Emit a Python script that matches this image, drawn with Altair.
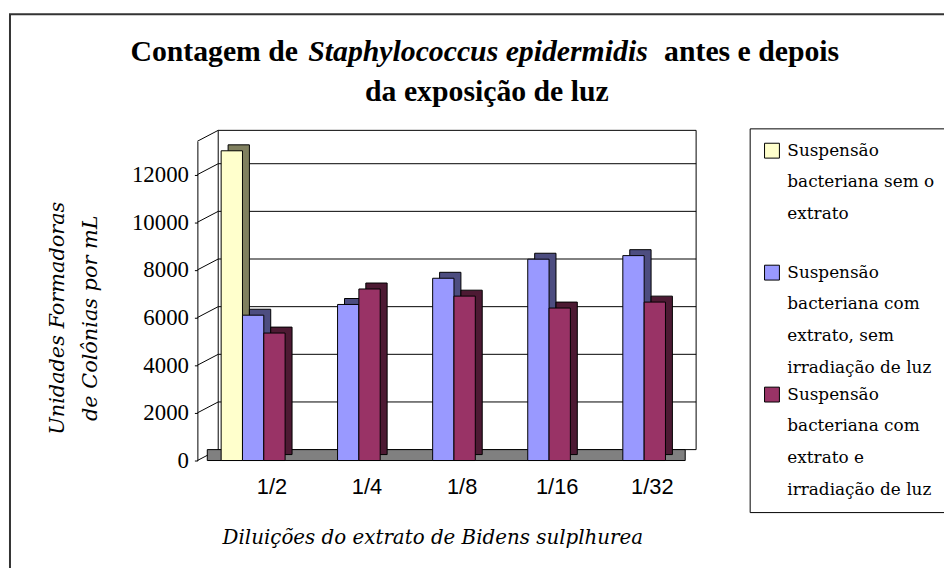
import json
import altair as alt
import pandas as pd

# ---------------- data ----------------
dilutions = ["1/2", "1/4", "1/8", "1/16", "1/32"]
series = ["sem_extrato", "com_extrato_sem_luz", "com_extrato_com_luz"]
sem_extrato = [13000, None, None, None, None]
com_extrato_sem_luz = [6100, 6550, 7650, 8450, 8600]
com_extrato_com_luz = [5350, 7200, 6900, 6400, 6650]
legend_lines = [
    ["Suspensão", "bacteriana sem o", "extrato", ""],
    ["Suspensão", "bacteriana com", "extrato, sem", "irradiação de luz"],
    ["Suspensão", "bacteriana com", "extrato e", "irradiação de luz"],
]
front_colors = ["#FFFFCC", "#9999FF", "#993366"]
side_colors = ["#80805F", "#4D4D80", "#4D1A33"]
y_ticks = [0, 2000, 4000, 6000, 8000, 10000, 12000]
y_max = 13400
title_line1 = ["Contagem de", "Staphylococcus epidermidis", "antes e depois"]
title_line2 = "da exposição de luz"
y_title = ["Unidades Formadoras", "de Colônias por mL"]
x_title = "Diluições do extrato de Bidens sulplhurea"

rows = []
for s, vals in zip(series, [sem_extrato, com_extrato_sem_luz, com_extrato_com_luz]):
    for d, v in zip(dilutions, vals):
        if v is not None:
            rows.append({"dil": d, "serie": s, "valor": v})
df = pd.DataFrame(rows)

label_expr = " : ".join(
    f"datum.label == '{s}' ? {json.dumps(l, ensure_ascii=False)}" for s, l in zip(series, legend_lines)
) + " : datum.label"

W, H = 496, 322
DX, DY = 21, -11

one = pd.DataFrame({"a": [0]})

border = alt.Chart(one).mark_rect(fillOpacity=0, stroke="#333333", strokeWidth=2).encode(
    x=alt.value(-189), x2=alt.value(900), y=alt.value(-128), y2=alt.value(600)
)
wall = alt.Chart(one).mark_rect(fill="white", stroke="black", strokeWidth=1).encode(
    x=alt.value(DX), x2=alt.value(503), y=alt.value(DY), y2=alt.value(H + DY)
)
grid = alt.Chart(pd.DataFrame({"v": y_ticks[1:]})).mark_rule(color="black", yOffset=DY).encode(
    y=alt.Y("v:Q"), x=alt.value(DX), x2=alt.value(503)
)
diag = alt.Chart(pd.DataFrame({"v": y_ticks + [y_max]})).mark_rule(color="black", y2Offset=DY).encode(
    y=alt.Y("v:Q"), y2="v:Q", x=alt.value(0), x2=alt.value(DX)
)
floor = alt.Chart(one).mark_rect(fill="#808080", stroke="black", strokeWidth=1).encode(
    x=alt.value(10), x2=alt.value(492), y=alt.value(H + DY), y2=alt.value(H)
)

x_scale = alt.Scale(paddingInner=0.328, paddingOuter=0.25)
y_scale = alt.Scale(domain=[0, y_max], nice=False)

x_axis = alt.Axis(
    title=x_title, titleFont="DejaVu Serif", titleFontStyle="italic", titleFontWeight="normal",
    titleFontSize=20, titleColor="black", titleX=237, titleY=78, titleBaseline="middle",
    titleAlign="center", labelAngle=0, labelFont="Liberation Sans", labelFontSize=22,
    labelColor="black", labelOffset=19, labelPadding=16, ticks=False, domain=False, zindex=2,
)
y_axis = alt.Axis(
    values=y_ticks, format="d", grid=False, domainColor="black", tickColor="black", tickSize=3,
    labelFont="Liberation Serif", labelFontSize=23, labelColor="black", labelPadding=6,
    title=y_title, titleFont="DejaVu Serif", titleFontStyle="italic", titleFontWeight="normal",
    titleFontSize=21, titleColor="black", titleLineHeight=33, titleX=-141, titleY=178,
    titleBaseline="middle", titleAlign="center", titleAngle=270, zindex=2,
)

shade_domain = [s + "_lado" for s in series]

shadow = alt.Chart(df).transform_calculate(
    lado="datum.serie + '_lado'"
).mark_bar(stroke="black", strokeWidth=1, yOffset=-6, y2Offset=-6).encode(
    x=alt.X("dil:N", sort=dilutions, scale=x_scale, axis=x_axis),
    xOffset=alt.XOffset("serie:N", sort=series, scale=alt.Scale(domain=series, range=[7, 71.5])),
    y=alt.Y("valor:Q", scale=y_scale, axis=y_axis),
    fill=alt.Fill("lado:N", scale=alt.Scale(domain=shade_domain, range=side_colors), legend=None),
)

front = alt.Chart(df).mark_bar(stroke="black", strokeWidth=1).encode(
    x=alt.X("dil:N", sort=dilutions, scale=x_scale, axis=x_axis),
    xOffset=alt.XOffset("serie:N", sort=series, scale=alt.Scale(domain=series, range=[0, 64.5])),
    y=alt.Y("valor:Q", scale=y_scale, axis=y_axis),
    color=alt.Color(
        "serie:N", scale=alt.Scale(domain=series, range=front_colors),
        legend=alt.Legend(
            title=None, orient="none", legendX=557, legendY=-13, labelExpr=label_expr,
            symbolType="square", symbolSize=225, symbolStrokeColor="black", symbolStrokeWidth=1,
            labelFont="DejaVu Serif", labelFontSize=17, labelColor="black", labelLimit=400,
            labelOffset=7, padding=14, strokeColor="black", fillColor="white", rowPadding=9,
            zindex=2,
        ),
    ),
)

def tpiece(text, x, y, italic=False):
    return alt.Chart(pd.DataFrame({"t": [text]})).mark_text(
        align="center", baseline="alphabetic", font="Liberation Serif", fontSize=30,
        fontWeight="bold", fontStyle="italic" if italic else "normal", color="black",
    ).encode(text="t:N", x=alt.value(x), y=alt.value(y))

t1 = tpiece(title_line1[0], 216 - 199, 59 - 140)
t2 = tpiece(title_line1[1], 482 - 199, 59 - 140, italic=True)
t3 = tpiece(title_line1[2], 758 - 199, 59 - 140)
t4 = tpiece(title_line2, 491 - 199, 99 - 140)

chart = alt.layer(border, wall, grid, diag, floor, shadow, front, t1, t2, t3, t4).resolve_scale(
    xOffset="independent"
).properties(
    width=W, height=H,
    padding={"left": 191, "top": 132, "right": 257, "bottom": 106},
    autosize=alt.AutoSizeParams(type="none"),
    background="white",
).configure(
    style={"guide-label": {"lineHeight": 32}}
).configure_view(stroke=None)

chart.save("out.html", embed_options={"renderer": "svg", "actions": False})
